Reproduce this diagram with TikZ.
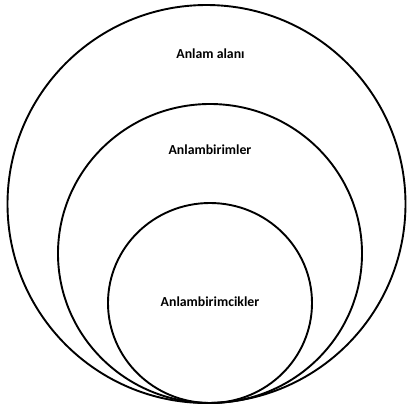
\documentclass[tikz,border=0pt]{standalone}
\usepackage{fontspec}
\setmainfont{Carlito}
\begin{document}
\begin{tikzpicture}[x=1pt,y=-1pt,
  ring/.style={draw=black,line width=1.9pt},
  lbl/.style={font=\fontsize{13.8}{16}\selectfont\bfseries,inner sep=0pt,anchor=base}]
\useasboundingbox (0,0) rectangle (407,408);
\draw[ring] (206.5,204) ellipse [x radius=199,y radius=199];
\draw[ring] (210,253.5) ellipse [x radius=152,y radius=149.5];
\draw[ring] (210,303) ellipse [x radius=102,y radius=100];
\node[lbl] (outer) at (210.5,58) {Anlam alanı};
\node[lbl] (middle) at (210,154) {Anlambirimler};
\node[lbl] (inner) at (210,306.5) {Anlambirimcikler};
\end{tikzpicture}
\end{document}
